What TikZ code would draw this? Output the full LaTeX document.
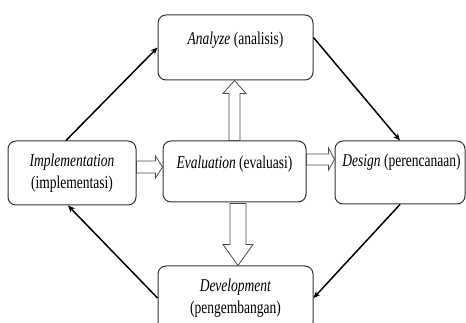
\documentclass[tikz,border=0pt]{standalone}
\usepackage{fontspec}
\setmainfont{Liberation Serif}[FakeStretch=0.75]
\usetikzlibrary{calc,arrows.meta}
\begin{document}
\begin{tikzpicture}[x=1pt,y=-1pt,
  box/.style={draw=black!80, line width=1pt, rounded corners=8pt, fill=white, inner sep=0pt},
  flow/.style={draw=black, line width=1.5pt, -{Stealth[length=7pt,width=6pt]}},
  blk/.style={draw=black!70, line width=0.8pt, fill=white},
  lbl/.style={font=\fontsize{18}{22}\selectfont, inner sep=0pt, align=center}]
\useasboundingbox (0,0) rectangle (466,323);
% boxes
\node[box, minimum width=155pt, minimum height=65pt] (ana) at (235.5,47.5) {};
\node[box, minimum width=128pt, minimum height=64pt] (impl) at (72,173) {};
\node[box, minimum width=143pt, minimum height=61pt] (eval) at (234.5,171.5) {};
\node[box, minimum width=130pt, minimum height=63pt] (des) at (400,172.5) {};
\node[box, minimum width=155pt, minimum height=64pt] (dev) at (235.5,298) {};
% texts
\node[lbl] (anat) at ($(ana.north)+(0,26)$) {\textit{Analyze} (analisis)};
\node[lbl] (evalt) at ($(eval.north)+(0,24)$) {\textit{Evaluation} (evaluasi)};
\node[lbl] (dest) at ($(des.north)+(1.5,22)$) {\textit{Design} (perencanaan)};
\node[lbl] (implt) at (impl.center) {\textit{Implementation}\\(implementasi)};
\node[lbl] (devt) at (dev.center) {\textit{Development}\\(pengembangan)};
% cycle arrows
\draw[flow] ($(impl.north)+(-6,0)$) -- (ana.west);
\draw[flow] ($(ana.east)+(0,-10)$) -- (des.north);
\draw[flow] (des.south) -- (dev.east);
\draw[flow] (dev.west) -- ($(impl.south)+(-4,0)$);
% block arrows
\draw[blk] ($(impl.east)+(0,-12)$) -- ($(impl.east)+(19,-12)$) -- ($(impl.east)+(19,-17)$)
  -- ($(eval.west)+(0,-4.5)$) -- ($(impl.east)+(19,5)$) -- ($(impl.east)+(19,0)$)
  -- ($(impl.east)+(0,0)$) -- cycle;
\draw[blk] ($(eval.east)+(0,-17.5)$) -- ($(eval.east)+(22,-17.5)$) -- ($(eval.east)+(22,-23.5)$)
  -- ($(des.west)+(0,-13)$) -- ($(eval.east)+(22,-1.5)$) -- ($(eval.east)+(22,-6.5)$)
  -- ($(eval.east)+(0,-6.5)$) -- cycle;
\draw[blk] ($(eval.north)+(-5.5,0)$) -- ($(eval.north)+(-5.5,-47)$) -- ($(eval.north)+(-11.5,-47)$)
  -- ($(ana.south)+(-1,0)$) -- ($(eval.north)+(11.5,-47)$) -- ($(eval.north)+(5.5,-47)$)
  -- ($(eval.north)+(5.5,0)$) -- cycle;
\draw[blk] ($(eval.south)+(-4.5,1)$) -- ($(eval.south)+(-4.5,42)$) -- ($(eval.south)+(-11.5,42)$)
  -- ($(dev.north)+(2.5,0)$) -- ($(eval.south)+(18.5,42)$) -- ($(eval.south)+(11.5,42)$)
  -- ($(eval.south)+(11.5,1)$) -- cycle;
\end{tikzpicture}
\end{document}
